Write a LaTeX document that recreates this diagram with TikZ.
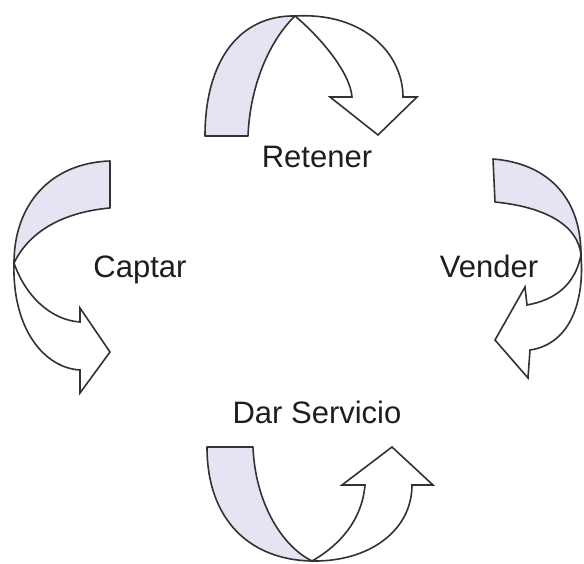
\documentclass[tikz,border=0pt]{standalone}
\usepackage{fontspec}
\setmainfont{Liberation Sans}
\definecolor{bandfill}{RGB}{228,228,242}
\definecolor{edgegray}{RGB}{50,50,50}
\definecolor{textgray}{RGB}{30,30,30}
\tikzset{
  backband/.style={draw=edgegray, fill=bandfill, line width=1.6pt, line join=round},
  frontband/.style={draw=edgegray, fill=white, line width=1.6pt, line join=miter},
  steplabel/.style={font=\fontsize{31}{36}\selectfont, text=textgray, inner sep=0pt, anchor=base}
}
\begin{document}
\begin{tikzpicture}[x=1pt,y=-1pt]
\useasboundingbox (0,0) rectangle (584,564);
% Retener (top)
\draw [backband] (205,136) -- (248,136) .. controls (250,85) and (270,40) .. (295,16)
  .. controls (240,15) and (205,60) .. cycle;
\draw [frontband] (295,16) .. controls (365,12) and (403,55) .. (403,97)
  -- (417,97) -- (378,135) -- (330,97) -- (352,97)
  .. controls (350,72) and (320,37) .. cycle;
% Vender (right)
\draw [backband] (493,159) -- (495,202) .. controls (545,207) and (578,225) .. (581,255)
  .. controls (581,195) and (545,163) .. cycle;
\draw [frontband] (581,255) .. controls (585,310) and (565,345) .. (530,350)
  -- (528,378) -- (495,340) -- (525,287) -- (527,305)
  .. controls (555,300) and (575,285) .. cycle;
% Dar Servicio (bottom)
\draw [backband] (207,447) -- (253,447) .. controls (255,500) and (280,545) .. (312,561)
  .. controls (250,560) and (207,520) .. cycle;
\draw [frontband] (312,561) .. controls (370,562) and (412,530) .. (412,485)
  -- (433,485) -- (392,447) -- (342,485) -- (365,485)
  .. controls (362,520) and (340,545) .. cycle;
% Captar (left)
\draw [backband] (110,161) -- (110,208) .. controls (65,212) and (30,230) .. (14,263)
  .. controls (14,205) and (50,163) .. cycle;
\draw [frontband] (14,263) .. controls (12,330) and (45,368) .. (80,370)
  -- (80,393) -- (110,352) -- (80,308) -- (80,322)
  .. controls (50,320) and (25,295) .. cycle;
% labels
\node [steplabel] (retener) at (317,168) {Retener};
\node [steplabel] (captar) at (140,277) {Captar};
\node [steplabel] (vender) at (489,278) {Vender};
\node [steplabel] (servicio) at (317,423) {Dar Servicio};
\end{tikzpicture}
\end{document}
